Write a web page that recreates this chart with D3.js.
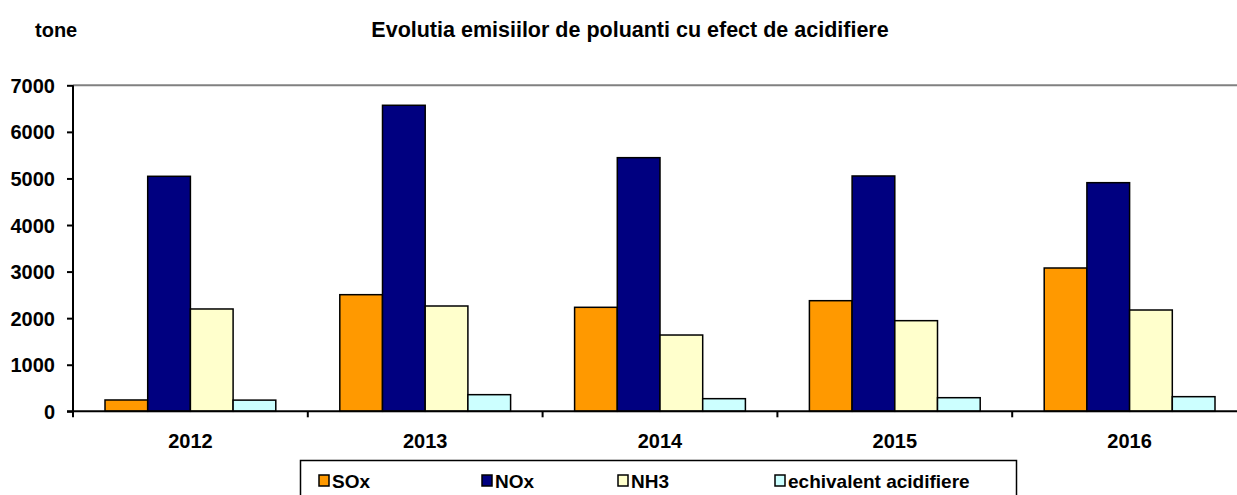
<!DOCTYPE html>
<html>
<head>
<meta charset="utf-8">
<script src="https://cdn.jsdelivr.net/npm/d3@7"></script>
<style>
  body { margin: 0; background: #fff; overflow: hidden; }
  svg text { font-family: Arial, "Liberation Sans", sans-serif; font-weight: bold; }
</style>
</head>
<body>
<script>
var years = ['2012', '2013', '2014', '2015', '2016'];
var seriesNames = ['SOx', 'NOx', 'NH3', 'echivalent acidifiere'];
var seriesColors = ['#FF9900', '#000080', '#FFFFCC', '#CCFFFF'];
var sox = [243, 2504, 2233, 2375, 3077];
var nox = [5046, 6571, 5446, 5053, 4909];
var nh3 = [2197, 2261, 1638, 1946, 2175];
var echiv = [240, 357, 271, 292, 314];
var yTicks = [0, 1000, 2000, 3000, 4000, 5000, 6000, 7000];

var series = [sox, nox, nh3, echiv];

var width = 1237, height = 495;
var plot = {left: 73, top: 85.3, bottom: 411.3, catWidth: 234.8};

var svg = d3.select('body')
  .append('svg')
  .attr('width', width)
  .attr('height', height);

var x0 = d3.scaleBand()
  .domain(years)
  .range([plot.left, plot.left + plot.catWidth * years.length]);

var x1 = d3.scaleBand()
  .domain(d3.range(seriesNames.length))
  .range([32, plot.catWidth - 32]);

var y = d3.scaleLinear()
  .domain([0, 7000])
  .range([plot.bottom, plot.top]);

// top border of plot area
svg.append('line')
  .attr('x1', plot.left).attr('x2', width)
  .attr('y1', y(7000)).attr('y2', y(7000))
  .attr('stroke', '#808080').attr('stroke-width', 2);

// bars
years.forEach(function(yr, i) {
  series.forEach(function(s, j) {
    svg.append('rect')
      .attr('x', x0(yr) + x1(j))
      .attr('y', y(s[i]))
      .attr('width', x1.bandwidth())
      .attr('height', y(0) - y(s[i]))
      .attr('fill', seriesColors[j])
      .attr('stroke', '#000')
      .attr('stroke-width', 1.5);
  });
});

// y axis
var yAxis = d3.axisLeft(y).tickValues(yTicks).tickSize(6).tickPadding(12).tickFormat(d3.format('d'));
var gy = svg.append('g')
  .attr('transform', 'translate(' + plot.left + ',0)')
  .call(yAxis);
gy.select('.domain').attr('stroke', '#000').attr('stroke-width', 2).attr('d', 'M0,' + plot.top + 'V' + (plot.bottom + 6));
gy.selectAll('.tick line').attr('stroke', '#000').attr('stroke-width', 2);
gy.selectAll('.tick text').attr('font-size', 20).attr('fill', '#000').attr('dy', '0.35em');

// x axis
var gx = svg.append('g')
  .attr('transform', 'translate(0,' + plot.bottom + ')');
gx.append('line')
  .attr('x1', plot.left - 6).attr('x2', width)
  .attr('stroke', '#000').attr('stroke-width', 2);
gx.selectAll('.xtick')
  .data(years.slice(1))
  .enter()
  .append('line')
  .attr('x1', function(d) { return x0(d); })
  .attr('x2', function(d) { return x0(d); })
  .attr('y1', 0).attr('y2', 6)
  .attr('stroke', '#000').attr('stroke-width', 2);
gx.selectAll('.xlabel')
  .data(years)
  .enter()
  .append('text')
  .attr('x', function(d) { return x0(d) + x0.bandwidth() / 2; })
  .attr('y', 37)
  .attr('text-anchor', 'middle')
  .attr('font-size', 20)
  .text(function(d) { return d; });

// titles
svg.append('text')
  .attr('x', 35).attr('y', 37)
  .attr('font-size', 20)
  .text('tone');
svg.append('text')
  .attr('x', 630).attr('y', 37)
  .attr('text-anchor', 'middle')
  .attr('font-size', 21.5)
  .text('Evolutia emisiilor de poluanti cu efect de acidifiere');

// legend
var legend = svg.append('g');
legend.append('rect')
  .attr('x', 300.5).attr('y', 460.5)
  .attr('width', 716).attr('height', 60)
  .attr('fill', '#fff').attr('stroke', '#000').attr('stroke-width', 1.5);
var legendX = [319, 482, 618, 775];
seriesNames.forEach(function(name, j) {
  legend.append('rect')
    .attr('x', legendX[j]).attr('y', 475)
    .attr('width', 10).attr('height', 11)
    .attr('fill', seriesColors[j])
    .attr('stroke', '#000').attr('stroke-width', 1.5);
  legend.append('text')
    .attr('x', legendX[j] + 13).attr('y', 488)
    .attr('font-size', 19)
    .text(name);
});
</script>
</body>
</html>
